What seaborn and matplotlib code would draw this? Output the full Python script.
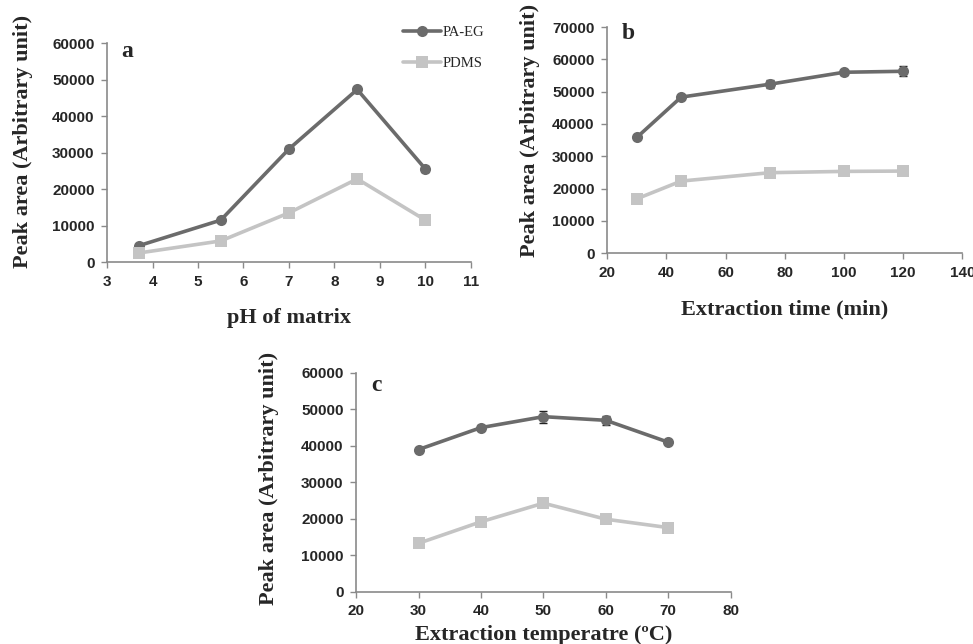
import numpy as np
import pandas as pd
import matplotlib
matplotlib.use("Agg")
import matplotlib.pyplot as plt
import seaborn as sns

# data
ph = [3.7, 5.5, 7.0, 8.5, 10.0]
ph_paeg = [4500, 11500, 31000, 47300, 25500]
ph_pdms = [2500, 5800, 13500, 22800, 11500]
ph_paeg_err = [300, 500, 700, 700, 900]
ph_pdms_err = [200, 300, 400, 500, 400]

time_min = [30, 45, 75, 100, 120]
time_paeg = [35800, 48300, 52300, 56000, 56300]
time_pdms = [16800, 22300, 24900, 25300, 25400]
time_paeg_err = [500, 600, 1300, 700, 1600]
time_pdms_err = [300, 400, 400, 400, 400]

temp_c = [30, 40, 50, 60, 70]
temp_paeg = [39000, 45000, 48000, 47000, 41000]
temp_pdms = [13300, 19200, 24300, 19900, 17600]
temp_paeg_err = [500, 600, 1600, 1300, 600]
temp_pdms_err = [300, 400, 400, 400, 300]

fibers = ["PA-EG", "PDMS"]
colors = {"PA-EG": "#6b6b6b", "PDMS": "#c4c4c4"}
markers = {"PA-EG": "o", "PDMS": "s"}

sns.set_style("ticks")
plt.rcParams["font.family"] = ["Liberation Serif", "DejaVu Serif"]

fig = plt.figure(figsize=(9.73, 6.44), dpi=100)
ax_a = fig.add_axes([0.110, 0.593, 0.374, 0.340])
ax_b = fig.add_axes([0.624, 0.607, 0.365, 0.351])
ax_c = fig.add_axes([0.366, 0.081, 0.385, 0.340])


def long_df(x, a, b, ea, eb):
    return pd.DataFrame({
        "x": list(x) * 2,
        "y": list(a) + list(b),
        "err": list(ea) + list(eb),
        "fiber": ["PA-EG"] * len(x) + ["PDMS"] * len(x),
    })


def draw(ax, df, letter, xlabel, xlim, xticks, ylim, yticks, xl_pos, yl_pos, yl_mid, let_y):
    for f in fibers:
        sub = df[df["fiber"] == f]
        ax.errorbar(sub["x"], sub["y"], yerr=sub["err"], fmt="none",
                    ecolor="#222222", elinewidth=1.0, capsize=3, zorder=1)
    sns.lineplot(data=df, x="x", y="y", hue="fiber", style="fiber",
                 palette=colors, markers=markers, dashes=False,
                 markersize=8, markeredgewidth=0, linewidth=2.6,
                 ax=ax, legend=False, zorder=3)
    ax.set_xlim(*xlim)
    ax.set_ylim(*ylim)
    ax.set_xticks(xticks)
    ax.set_yticks(yticks)
    ax.set_xticklabels([str(t) for t in xticks], fontfamily="Liberation Sans",
                       fontweight="bold", fontsize=11)
    ax.set_yticklabels([str(t) for t in yticks], fontfamily="Liberation Sans",
                       fontweight="bold", fontsize=11)
    ax.set_xlabel(xlabel, fontsize=16, fontweight="bold")
    ax.set_ylabel("Peak area (Arbitrary unit)", fontsize=16, fontweight="bold")
    ax.xaxis.set_label_coords(0.5, xl_pos)
    ax.yaxis.set_label_coords(yl_pos, yl_mid)
    ax.text(0.04, let_y, letter, transform=ax.transAxes, fontsize=17,
            fontweight="bold", va="top", ha="left")
    sns.despine(ax=ax)
    for s in ["left", "bottom"]:
        ax.spines[s].set_color("#8a8a8a")
        ax.spines[s].set_linewidth(1.2)
    ax.tick_params(axis="both", direction="out", length=4, width=1.0,
                   color="#8a8a8a", pad=5)


draw(ax_a, long_df(ph, ph_paeg, ph_pdms, ph_paeg_err, ph_pdms_err), "a",
     "pH of matrix", (3, 11), list(range(3, 12)), (0, 60000),
     list(range(0, 60001, 10000)), -0.21, -0.203, 0.55, 1.01)
draw(ax_b, long_df(time_min, time_paeg, time_pdms, time_paeg_err, time_pdms_err), "b",
     "Extraction time (min)", (20, 140), list(range(20, 141, 20)), (0, 70000),
     list(range(0, 70001, 10000)), -0.204, -0.19, 0.544, 1.02)
draw(ax_c, long_df(temp_c, temp_paeg, temp_pdms, temp_paeg_err, temp_pdms_err), "c",
     "Extraction temperatre (\u00baC)", (20, 80), list(range(20, 81, 10)), (0, 60000),
     list(range(0, 60001, 10000)), -0.151, -0.205, 0.52, 0.99)

# legend handles
handles = [plt.Line2D([], [], color=colors[f], marker=markers[f], markersize=8,
                      markeredgewidth=0, linewidth=2.6) for f in fibers]
fig.legend(handles, fibers, loc="upper left", bbox_to_anchor=(403 / 973, 1 - 26 / 644),
           frameon=False, fontsize=10.5, handlelength=2.6, handletextpad=0.1,
           labelspacing=1.2, borderpad=0, borderaxespad=0)

fig.savefig("out.png", dpi=100, facecolor="white")
